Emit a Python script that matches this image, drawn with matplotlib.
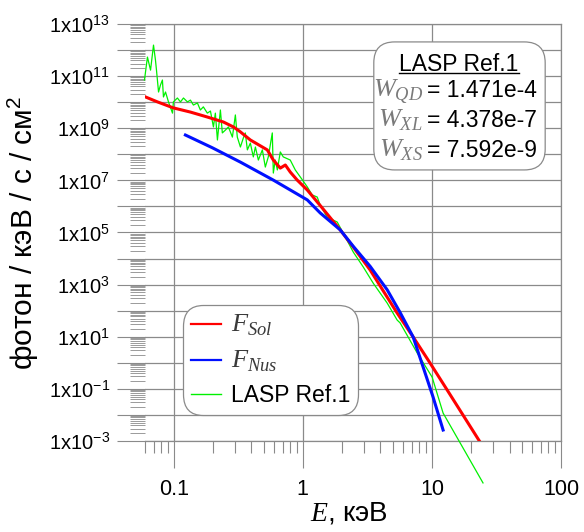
import numpy as np
import matplotlib
matplotlib.use("Agg")
import matplotlib.pyplot as plt
from matplotlib.ticker import FixedLocator, FuncFormatter, NullFormatter
from matplotlib.patches import FancyBboxPatch

plt.rcParams['font.family'] = ['Liberation Sans', 'DejaVu Sans']
plt.rcParams['mathtext.fontset'] = 'custom'
plt.rcParams['mathtext.rm'] = 'Liberation Sans'
plt.rcParams['mathtext.it'] = 'Liberation Serif:italic'
plt.rcParams['mathtext.bf'] = 'Liberation Sans:bold'
plt.rcParams['mathtext.default'] = 'regular'

# F_Sol: lg(E, кэВ) и lg(поток)
lg_e_sol = [-1.218, -1.125, -1.002, -0.870, -0.739, -0.615, -0.537, -0.483, -0.406,
            -0.313, -0.275, -0.228, -0.174, -0.135, -0.097, -0.043, 0.035, 0.151,
            0.290, 0.391, 0.522, 0.731, 0.855, 0.986, 1.118, 1.373]
lg_f_sol = [10.20, 10.01, 9.78, 9.62, 9.43, 9.24, 9.05, 8.86, 8.55,
            8.28, 8.17, 7.78, 7.47, 7.59, 7.32, 7.01, 6.63, 5.94,
            5.10, 4.44, 3.56, 1.91, 0.99, -0.01, -1.04, -3.04]

# F_Nus
lg_e_nus = [-0.909, -0.700, -0.483, -0.228, 0.035, 0.135, 0.290, 0.391, 0.522, 0.654,
            0.754, 0.855, 0.932, 1.009, 1.087]
lg_f_nus = [8.74, 8.25, 7.70, 7.01, 6.25, 5.75, 5.10, 4.47, 3.70, 2.80,
            1.93, 0.99, -0.16, -1.31, -2.58]

# LASP Ref.1
lg_e_lasp = [-1.226, -1.203, -1.179, -1.156, -1.141, -1.133, -1.117, -1.102, -1.087,
             -1.079, -1.063, -1.040, -1.009, -1.002, -0.971, -0.947, -0.924, -0.893,
             -0.870, -0.847, -0.816, -0.793, -0.770, -0.739, -0.715, -0.692, -0.677,
             -0.661, -0.638, -0.623, -0.599, -0.576, -0.545, -0.522, -0.507, -0.483,
             -0.460, -0.445, -0.429, -0.406, -0.383, -0.367, -0.344, -0.313, -0.290,
             -0.267, -0.236, -0.228, -0.213, -0.197, -0.174, -0.151, -0.097, -0.058,
             -0.019, 0.035, 0.073, 0.112, 0.135, 0.189, 0.267, 0.313, 0.391,
             0.468, 0.545, 0.654, 0.731, 0.754, 0.886, 1.002, 1.087, 1.396]
lg_f_lasp = [10.85, 11.73, 11.23, 12.19, 11.62, 11.23, 10.39, 10.66, 10.85,
             10.20, 10.39, 10.01, 9.58, 10.01, 10.16, 10.01, 10.16, 10.01,
             10.08, 9.89, 9.97, 9.70, 9.82, 9.58, 9.66, 9.05, 9.58,
             8.55, 9.70, 8.82, 8.93, 9.05, 8.66, 9.51, 8.66, 8.28,
             8.63, 8.82, 8.17, 8.43, 7.90, 8.28, 7.78, 8.17, 7.51,
             7.90, 8.82, 7.28, 7.78, 7.40, 8.09, 7.90, 7.78, 7.40,
             7.13, 6.75, 6.44, 6.36, 6.05, 5.59, 5.40, 4.98, 4.25,
             3.68, 3.06, 2.29, 1.64, 1.53, 0.38, -0.55, -1.93, -4.61]

box_title = "LASP Ref.1"
box_names = [r"$\mathit{W}_{\mathit{QD}}$", r"$\mathit{W}_{\mathit{XL}}$", r"$\mathit{W}_{\mathit{XS}}$"]
box_values = ["1.471e-4", "4.378e-7", "7.592e-9"]

grid_c = '#8a8a8a'

fig = plt.figure(figsize=(5.84, 5.32), dpi=100)
ax = fig.add_axes([0.2483, 0.1711, 0.7123, 0.7838])

ax.plot(10.0 ** np.array(lg_e_lasp), 10.0 ** np.array(lg_f_lasp), color='#00f000',
        lw=0.9, clip_on=False, zorder=3, label='LASP Ref.1')
ax.plot(10.0 ** np.array(lg_e_sol), 10.0 ** np.array(lg_f_sol), color='#ff0000',
        lw=2.2, zorder=4, label=r'$\mathit{F}_{\mathit{Sol}}$')
ax.plot(10.0 ** np.array(lg_e_nus), 10.0 ** np.array(lg_f_nus), color='#0010ff',
        lw=2.2, zorder=5, label=r'$\mathit{F}_{\mathit{Nus}}$')

ax.set_xscale('log')
ax.set_yscale('log')
ax.set_xlim(0.06, 100)
ax.set_ylim(1e-3, 1e13)

# деления
ax.xaxis.set_major_locator(FixedLocator([0.1, 1, 10, 100]))
ax.xaxis.set_minor_locator(FixedLocator([m * 10.0 ** k for k in range(-2, 2) for m in range(2, 10)]))
ax.xaxis.set_major_formatter(FuncFormatter(lambda v, p: '%g' % v))
ax.xaxis.set_minor_formatter(NullFormatter())

ax.yaxis.set_major_locator(FixedLocator([10.0 ** k for k in range(-3, 14)]))
ax.yaxis.set_minor_locator(FixedLocator([m * 10.0 ** k for k in range(-3, 13) for m in range(2, 10)]))


def ylab(v, pos):
    k = int(round(np.log10(v)))
    if k % 2 == 0:
        return ''
    return r'1x10$^{%d}$' % k


ax.yaxis.set_major_formatter(FuncFormatter(ylab))
ax.yaxis.set_minor_formatter(NullFormatter())

ax.tick_params(axis='x', which='major', direction='out', length=19.5, width=0.8,
               color=grid_c, pad=8, labelsize=15.5)
ax.tick_params(axis='x', which='minor', direction='out', length=8.6, width=0.8, color=grid_c)
ax.tick_params(axis='y', which='major', direction='out', length=20, width=0.8,
               color=grid_c, pad=5, labelsize=14.5)
ax.tick_params(axis='y', which='minor', direction='out', length=11, width=0.6, color=grid_c)

ax.grid(True, which='major', color=grid_c, lw=0.9)
ax.set_axisbelow(True)
for s in ['top', 'right', 'bottom']:
    ax.spines[s].set_color(grid_c)
    ax.spines[s].set_linewidth(0.9)
ax.spines['left'].set_visible(False)

ax.set_xlabel(r'$\mathit{E}$, кэВ', fontsize=20)
ax.set_ylabel('фотон / кэВ / с / см$^2$', fontsize=21.5)
ax.xaxis.set_label_coords(0.49, -0.143)
ax.yaxis.set_label_coords(-0.25, 0.5)

# легенда
h, l = ax.get_legend_handles_labels()
order = [1, 2, 0]
leg = ax.legend([h[i] for i in order], [l[i] for i in order], loc='upper left',
                bbox_to_anchor=(0.091, 0.326), borderaxespad=0, fancybox=True,
                framealpha=1, edgecolor=grid_c, handlelength=1.3, handletextpad=0.45,
                labelspacing=0.45, borderpad=0.35, fontsize=16.5)
leg.get_frame().set_boxstyle('round,pad=0,rounding_size=0.9')
leg.get_frame().set_linewidth(0.9)
for t in leg.get_texts()[:2]:
    t.set_fontsize(19)
    t.set_color('#3a3a3a')
for line in leg.get_lines():
    line.set_linewidth(1.6 if line.get_color() != '#00f000' else 1.0)

# блок с параметрами
box = FancyBboxPatch((0.550, 0.650), 0.412, 0.307, boxstyle='round,pad=0,rounding_size=0.05',
                     transform=ax.transAxes, facecolor='white', edgecolor=grid_c, lw=0.9, zorder=6)
ax.add_patch(box)
title = ax.text(0.755, 0.887, box_title, transform=ax.transAxes, ha='center', va='baseline',
                fontsize=16.5, zorder=7)
rows_y = [0.825, 0.753, 0.681]
for name, val, yy in zip(box_names, box_values, rows_y):
    ax.text(0.668, yy, name, transform=ax.transAxes, ha='right', va='baseline',
            fontsize=19, color='#7a7a7a', zorder=7)
    ax.text(0.678, yy, '= ' + val, transform=ax.transAxes, ha='left', va='baseline',
            fontsize=16.5, zorder=7)

fig.canvas.draw()
bb = title.get_window_extent().transformed(ax.transAxes.inverted())
ax.plot([bb.x0, bb.x1], [0.883, 0.883], transform=ax.transAxes, color='k', lw=1.0, zorder=7)

fig.savefig('out.png', dpi=100)
